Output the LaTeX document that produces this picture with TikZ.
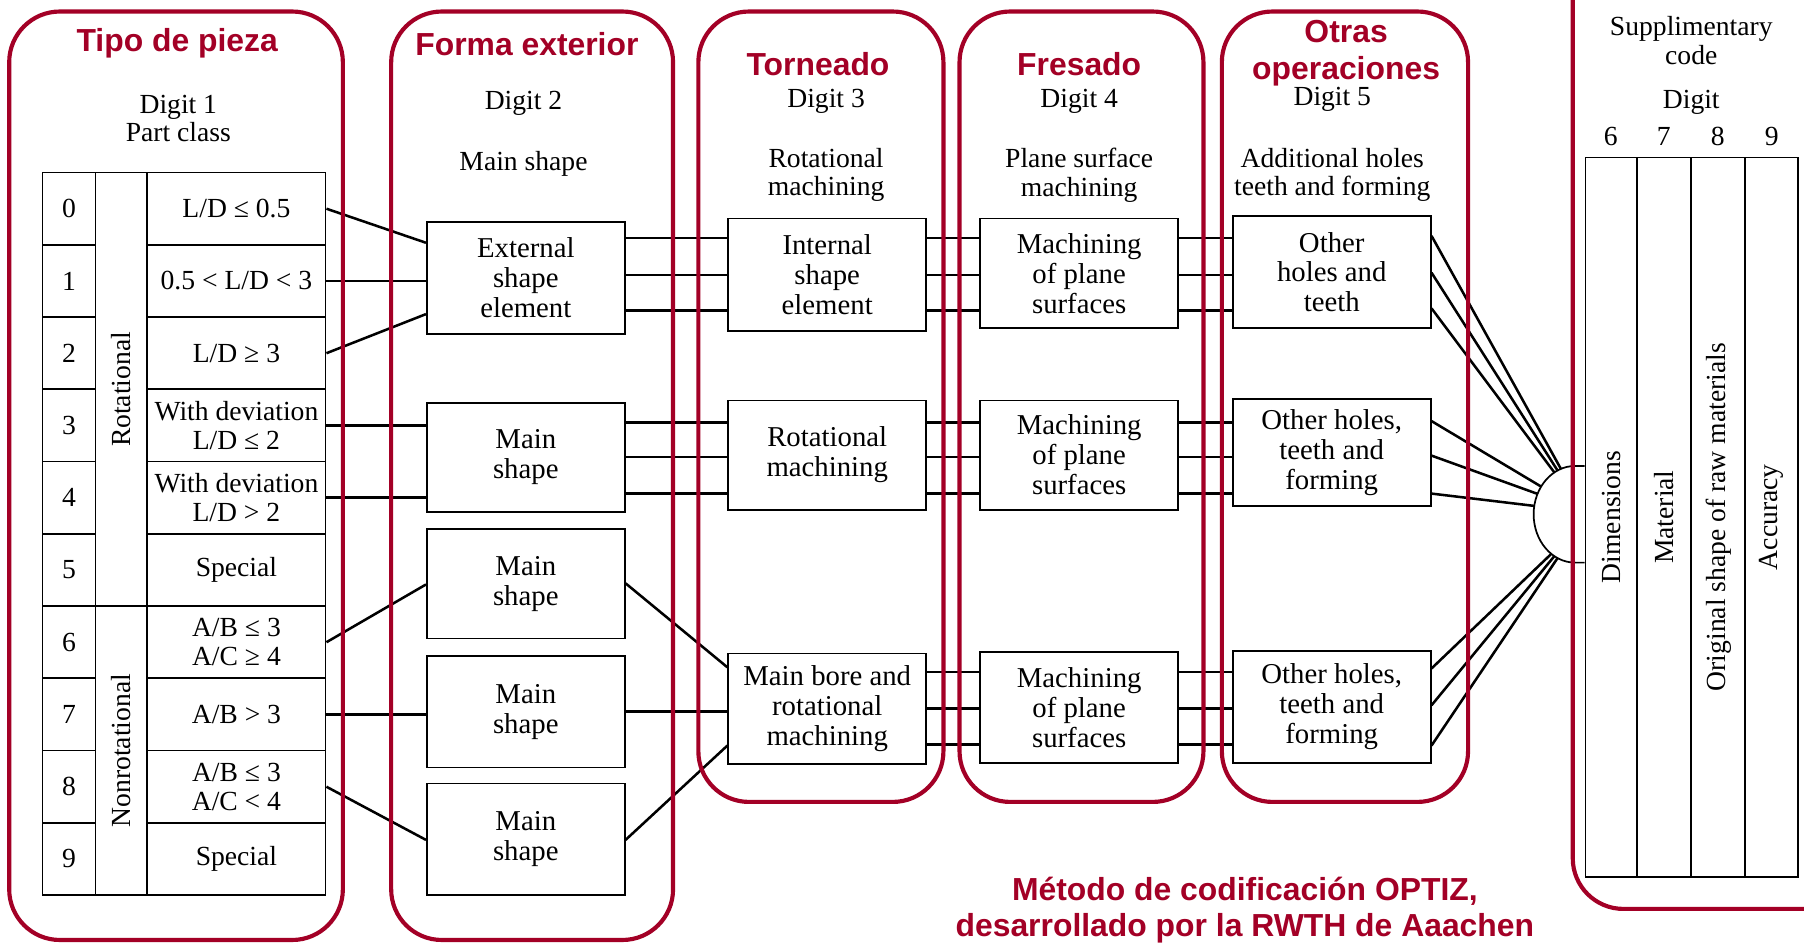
\documentclass[tikz,border=0pt]{standalone}
\usepackage{fontspec}
\setmainfont{Liberation Serif}
\setsansfont{Liberation Sans}
\usetikzlibrary{calc}
\definecolor{optred}{RGB}{163,0,38}
\begin{document}
\begin{tikzpicture}[x=0.5pt,y=-0.5pt,
  frame/.style={draw=optred, line width=1.8pt, rounded corners=22pt},
  box/.style={draw, line width=0.75pt, fill=white, minimum width=86pt, inner sep=0pt, align=center, font=\fontsize{12.5}{13}\selectfont},
  conn/.style={line width=1.1pt},
  hdr/.style={align=center, font=\fontsize{12}{12.5}\selectfont, inner sep=0pt},
  title/.style={align=center, text=optred, font=\sffamily\bfseries\fontsize{13.85}{16}\selectfont, inner sep=0pt},
  cell/.style={draw, line width=0.75pt, inner sep=0pt, minimum height=31.4pt, align=center, font=\fontsize{12}{12.5}\selectfont},
]
\clip (0,0) rectangle (1568,821);
\fill[white] (0,0) rectangle (1568,821);

% ---------- column 1 : part class table ----------
\node[title] (t1) at (154,38) {Tipo de pieza};
\node[hdr] (h1) at (155,103) {Digit 1\\Part class};
\foreach \i in {0,...,9}
  \node[cell, minimum width=23pt] (n\i) at (60,{181.4+62.8*\i}) {\i};
\node[cell, rotate=90, minimum width=188.5pt, minimum height=22.5pt] (rot) at (105.5,338.5) {Rotational};
\node[cell, rotate=90, minimum width=125.5pt, minimum height=22.5pt] (nrot) at (105.5,652.5) {Nonrotational};
\node[cell, minimum width=77.5pt] (r0) at (205.5,181.4) {L/D ≤ 0.5};
\node[cell, minimum width=77.5pt] (r1) at (205.5,244.2) {0.5 < L/D < 3};
\node[cell, minimum width=77.5pt] (r2) at (205.5,307.0) {L/D ≥ 3};
\node[cell, minimum width=77.5pt] (r3) at (205.5,369.8) {With deviation\\L/D ≤ 2};
\node[cell, minimum width=77.5pt] (r4) at (205.5,432.6) {With deviation\\L/D > 2};
\node[cell, minimum width=77.5pt] (r5) at (205.5,495.4) {Special};
\node[cell, minimum width=77.5pt] (r6) at (205.5,558.2) {A/B ≤ 3\\A/C ≥ 4};
\node[cell, minimum width=77.5pt] (r7) at (205.5,621.0) {A/B > 3};
\node[cell, minimum width=77.5pt] (r8) at (205.5,683.8) {A/B ≤ 3\\A/C < 4};
\node[cell, minimum width=77.5pt] (r9) at (205.5,746.6) {Special};

% ---------- column 2 ----------
\node[title] (t2) at (458,38) {Forma exterior};
\node[hdr] (h2a) at (455,90) {Digit 2};
\node[hdr] (h2b) at (455,142) {Main shape};
\node[box, minimum height=48.5pt] (B2a) at (457,241.5) {External\\shape\\element};
\node[box, minimum height=47.5pt] (B2b) at (457,397.5) {Main\\shape};
\node[box, minimum height=47.5pt] (B2c) at (457,507.5) {Main\\shape};
\node[box, minimum height=48.5pt] (B2d) at (457,618.5) {Main\\shape};
\node[box, minimum height=48.5pt] (B2e) at (457,729.5) {Main\\shape};

% ---------- column 3 ----------
\node[title] (t3) at (711,56) {Torneado};
\node[hdr] (h3a) at (718,88) {Digit 3};
\node[hdr] (h3b) at (718,152) {Rotational\\machining};
\node[box, minimum height=49pt] (B3a) at (719,239) {Internal\\shape\\element};
\node[box, minimum height=47.5pt] (B3b) at (719,395.5) {Rotational\\machining};
\node[box, minimum height=48pt] (B3c) at (719,616) {Main bore and\\rotational\\machining};

% ---------- column 4 ----------
\node[title] (t4) at (938,56) {Fresado};
\node[hdr] (h4a) at (938,88) {Digit 4};
\node[hdr] (h4b) at (938,152) {Plane surface\\machining};
\node[box, minimum height=47.5pt] (B4a) at (938,237.5) {Machining\\of plane\\surfaces};
\node[box, minimum height=47.5pt] (B4b) at (938,395.5) {Machining\\of plane\\surfaces};
\node[box, minimum height=48pt] (B4c) at (938,615) {Machining\\of plane\\surfaces};

% ---------- column 5 ----------
\node[title] (t5) at (1170,46) {Otras\\operaciones};
\node[hdr] (h5a) at (1158,86) {Digit 5};
\node[hdr] (h5b) at (1158,152) {Additional holes\\teeth and forming};
\node[box, minimum height=48.5pt] (B5a) at (1157.5,236.5) {Other\\holes and\\teeth};
\node[box, minimum height=46.5pt] (B5b) at (1157.5,393.5) {Other holes,\\teeth and\\forming};
\node[box, minimum height=48.5pt] (B5c) at (1157.5,614.5) {Other holes,\\teeth and\\forming};

% ---------- supplementary code ----------
\node[hdr] (h6a) at (1470,35) {Supplimentary\\code};
\node[hdr] (h6b) at (1470,89) {Digit};
\node[hdr] (d6) at (1400,119) {6};
\node[hdr] (d7) at (1446,119) {7};
\node[hdr] (d8) at (1493,119) {8};
\node[hdr] (d9) at (1540,119) {9};
\node[cell, rotate=90, minimum width=312.5pt, minimum height=22.5pt] (s6) at (1400.5,449.5) {Dimensions};
\node[cell, rotate=90, minimum width=312.5pt, minimum height=23.5pt] (s7) at (1446.5,449.5) {Material};
\node[cell, rotate=90, minimum width=312.5pt, minimum height=23.5pt] (s8) at (1493.5,449.5) {Original shape of raw materials};
\node[cell, rotate=90, minimum width=312.5pt, minimum height=23pt] (s9) at (1540,449.5) {Accuracy};

% ---------- connectors: table -> digit 2 ----------
\draw[conn] (r0.east) -- (B2a.west |- 0,211);
\draw[conn] (r1.east) -- (B2a.west |- r1.east);
\draw[conn] (r2.east) -- (B2a.west |- 0,273);
\draw[conn] (r3.east) -- (B2b.west |- r3.east);
\draw[conn] (r4.east) -- (B2b.west |- r4.east);
\draw[conn] (r6.east) -- (B2c.west |- 0,508);
\draw[conn] (r7.east) -- (B2d.west |- r7.east);
\draw[conn] (r8.east) -- (B2e.west |- 0,730);

% ---------- digit 2 -> digit 3 ----------
\foreach \y in {207,239,270} \draw[conn] (B2a.east |- 0,\y) -- (B3a.west |- 0,\y);
\foreach \y in {367,397,429} \draw[conn] (B2b.east |- 0,\y) -- (B3b.west |- 0,\y);
\draw[conn] (B2c.east |- 0,507) -- (B3c.west |- 0,580);
\draw[conn] (B2d.east) -- (B3c.west |- B2d.east);
\draw[conn] (B2e.east |- 0,730) -- (B3c.west |- 0,648);

% ---------- digit 3 -> 4 -> 5 ----------
\foreach \y in {207,239,270} {
  \draw[conn] (B3a.east |- 0,\y) -- (B4a.west |- 0,\y);
  \draw[conn] (B4a.east |- 0,\y) -- (B5a.west |- 0,\y);
}
\foreach \y in {367,397,429} {
  \draw[conn] (B3b.east |- 0,\y) -- (B4b.west |- 0,\y);
  \draw[conn] (B4b.east |- 0,\y) -- (B5b.west |- 0,\y);
}
\foreach \y in {584,616,647} {
  \draw[conn] (B3c.east |- 0,\y) -- (B4c.west |- 0,\y);
  \draw[conn] (B4c.east |- 0,\y) -- (B5c.west |- 0,\y);
}

% ---------- fan into the supplementary code ----------
\coordinate (circ) at (1369,447);
\draw[line width=0.75pt] (s6.north |- 0,405) -- (1369,405)
  arc[start angle=270, end angle=90, x radius=36, y radius=42] -- (s6.north |- 0,489);
\foreach \y/\a in {205/110,237/115,268/120}
  \draw[conn] (B5a.east |- 0,\y) -- ($(circ)+({36*cos(\a)},{-42*sin(\a)})$);
\foreach \y/\a in {366/145,396/155,429/170}
  \draw[conn] (B5b.east |- 0,\y) -- ($(circ)+({36*cos(\a)},{-42*sin(\a)})$);
\foreach \y/\a in {581/235,613/240,648/245}
  \draw[conn] (B5c.east |- 0,\y) -- ($(circ)+({36*cos(\a)},{-42*sin(\a)})$);

% ---------- caption ----------
\node[title] (cap) at (1082,791) {Método de codificación OPTIZ,\\desarrollado por la RWTH de Aaachen};

% ---------- red frames ----------
\draw[frame] (8,10) rectangle (298,817);
\draw[frame] (340,10) rectangle (585,817);
\draw[frame] (607,10) rectangle (820,697);
\draw[frame] (834,10) rectangle (1046,697);
\draw[frame] (1062,10) rectangle (1276,697);
\draw[frame] (1367,-60) rectangle (1640,790);
\end{tikzpicture}
\end{document}
